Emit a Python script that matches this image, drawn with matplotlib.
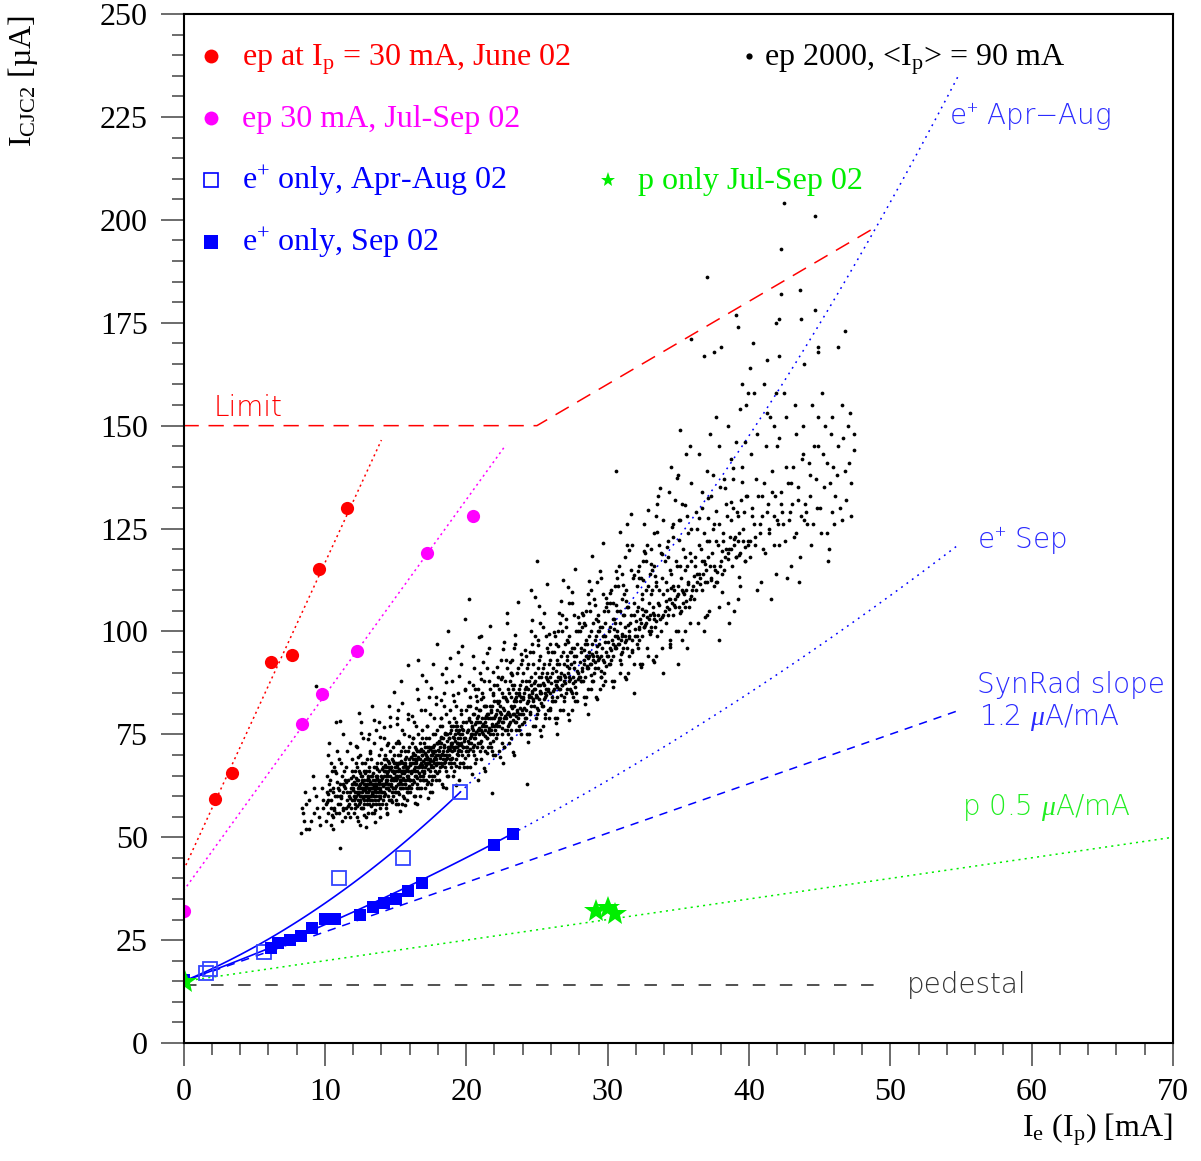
import numpy as np
import matplotlib
matplotlib.use('Agg')
import matplotlib.pyplot as plt

# ---- data ----
# ep at Ip = 30 mA, June 02
red_x = [2.2, 3.4, 6.2, 7.7, 9.6, 11.6]
red_y = [59.3, 65.6, 92.6, 94.3, 115.2, 130.0]
# ep 30 mA, Jul-Sep 02
mag_x = [0.0, 8.4, 9.8, 12.3, 17.2, 20.5]
mag_y = [32.0, 77.5, 84.8, 95.2, 119.0, 128.0]
# e+ only, Apr-Aug 02
eopen_x = [1.6, 1.85, 5.7, 11.0, 15.5, 19.55]
eopen_y = [17.1, 18.1, 22.2, 40.0, 45.0, 60.9]
# e+ only, Sep 02
efill_x = [0.0, 6.2, 6.7, 7.5, 8.3, 9.1, 10.0, 10.7, 12.5, 13.4, 14.2, 15.0, 15.9, 16.9, 22.0, 23.3]
efill_y = [15.2, 23.0, 24.2, 25.0, 26.1, 28.0, 30.1, 30.1, 31.1, 33.1, 34.1, 35.0, 37.0, 39.0, 48.1, 50.9]
# p only Jul-Sep 02
ponly_x = [0.1, 29.2, 30.0, 30.5]
ponly_y = [14.9, 32.1, 32.7, 31.3]

# ep 2000, <Ip> = 90 mA  (approximate positions of the cloud, several passes)
ep2000_a = [
    (8.3,51),(8.5,54),(8.7,58),(8.9,52),(9.2,56),(9.4,60),(9.6,55),(9.8,62),(9.9,57),(8.6,61),
    (9.4,86.8),(11.1,78.2),(11.1,47.4),(24.3,63),(21.8,60.8),(15.9,91.8),(19.9,103),
    (10.1,54),(10.2,59),(10.3,63),(10.4,57),(10.5,66),(10.6,52),(10.7,60),(10.8,56),(10.9,62),(11.0,69),
    (11.1,58),(11.2,54),(11.3,61),(11.4,64),(11.5,57),(11.6,71),(11.7,60),(11.8,55),(11.9,63),(10.3,73),
    (10.8,78),(11.5,67),(11.2,65),(10.6,61),(11.9,59),(11.0,56),(10.4,68),(11.7,58),(12.0,62),(11.3,75),
    (12.1,57),(12.2,60),(12.2,63),(12.3,55),(12.4,61),(12.4,66),(12.5,59),(12.6,62),(12.6,68),(12.7,57),
    (12.8,60),(12.8,64),(12.9,61),(13.0,58),(13.0,63),(13.1,66),(13.1,60),(13.2,62),(13.3,56),(13.3,59),
    (13.4,64),(13.4,61),(13.5,67),(13.5,60),(13.6,63),(13.6,58),(13.7,62),(13.7,65),(13.8,60),(13.8,70),
    (13.9,62),(13.9,57),(14.0,64),(12.3,72),(12.7,74),(13.2,71),(13.6,76),(12.5,53),(13.9,55),(12.9,66),
    (13.3,63),(12.0,65),(12.8,58),(13.5,62),(12.4,58),(13.1,64),(13.8,66),(12.6,65),(13.4,58),(12.2,68),
    (13.0,69),(13.7,68),(12.9,55),(13.2,59),(12.5,63),(13.6,61),(12.1,61),(13.9,60),(12.7,62),(13.3,82),
    (14.1,59),(14.1,63),(14.2,66),(14.2,61),(14.3,69),(14.3,57),(14.4,64),(14.4,62),(14.5,67),(14.5,60),
    (14.6,65),(14.6,71),(14.7,63),(14.7,59),(14.8,66),(14.8,62),(14.9,68),(14.9,64),(15.0,61),(15.0,73),
    (15.1,65),(15.1,67),(15.2,63),(15.2,58),(15.3,70),(15.3,66),(15.4,62),(15.4,64),(15.5,68),(15.5,60),
    (15.6,66),(15.6,75),(15.7,63),(15.7,69),(15.8,65),(15.8,61),(15.9,67),(15.9,71),(16.0,64),(14.2,74),
    (14.6,77),(15.1,79),(15.5,72),(14.4,56),(15.0,58),(15.8,59),(14.9,70),(15.3,62),(14.7,67),(15.6,64),
    (14.3,65),(15.2,68),(15.9,62),(14.5,63),(15.4,71),(14.8,60),(15.7,66),(14.1,67),(15.0,65),(15.4,88),
    (16.1,62),(16.1,66),(16.2,70),(16.2,64),(16.3,68),(16.3,60),(16.4,72),(16.4,66),(16.5,63),(16.5,69),
    (16.6,67),(16.6,75),(16.7,65),(16.7,71),(16.8,62),(16.8,68),(16.9,70),(16.9,66),(17.0,73),(17.0,64),
    (17.1,69),(17.1,67),(17.2,77),(17.2,63),(17.3,71),(17.3,68),(17.4,65),(17.4,74),(17.5,70),(17.5,67),
    (17.6,72),(17.6,64),(17.7,69),(17.7,79),(17.8,66),(17.8,71),(17.9,68),(17.9,73),(18.0,70),(16.3,78),
    (16.8,81),(17.4,84),(16.5,58),(17.6,61),(16.9,74),(17.2,69),(16.4,69),(17.8,75),(16.7,60),(17.0,66),
    (16.2,74),(17.5,63),(16.0,68),(16.6,93),(17.9,97),
    (18.1,66),(18.1,71),(18.2,74),(18.2,68),(18.3,63),(18.3,77),(18.4,70),(18.4,72),(18.5,67),(18.5,75),
    (18.6,69),(18.6,80),(18.7,72),(18.7,65),(18.8,74),(18.8,70),(18.9,77),(18.9,68),(19.0,73),(19.0,71),
    (19.1,83),(19.1,66),(19.2,75),(19.2,72),(19.3,69),(19.3,78),(19.4,74),(19.4,71),(19.5,76),(19.5,67),
    (19.6,73),(19.6,81),(19.7,70),(19.7,75),(19.8,78),(19.8,72),(19.9,74),(19.9,86),(20.0,71),(18.4,85),
    (19.0,88),(18.6,62),(19.5,64),(18.9,73),(19.3,76),(18.2,79),(19.8,68),(18.7,100),(19.6,92),(18.0,73),
    (20.1,70),(20.1,76),(20.2,79),(20.2,73),(20.3,67),(20.3,82),(20.4,75),(20.4,77),(20.5,71),(20.5,80),
    (20.6,74),(20.6,86),(20.7,78),(20.7,69),(20.8,76),(20.8,73),(20.9,81),(20.9,75),(21.0,78),(21.0,90),
    (21.1,72),(21.1,77),(21.2,84),(21.2,75),(21.3,79),(21.3,71),(21.4,77),(21.4,82),(21.5,74),(21.5,80),
    (21.6,76),(21.6,88),(21.7,79),(21.7,73),(21.8,82),(21.8,77),(21.9,75),(21.9,85),(22.0,79),(20.5,94),
    (21.3,66),(20.8,64),(21.6,96),(20.2,108),(21.9,70),
    (22.1,74),(22.1,80),(22.2,83),(22.2,77),(22.3,71),(22.3,86),(22.4,79),(22.4,82),(22.5,75),(22.5,89),
    (22.6,78),(22.6,84),(22.7,81),(22.7,72),(22.8,79),(22.8,93),(22.9,83),(22.9,76),(23.0,85),(23.0,80),
    (23.1,78),(23.1,88),(23.2,82),(23.2,74),(23.3,86),(23.3,80),(23.4,83),(23.4,96),(23.5,78),(23.5,84),
    (23.6,81),(23.6,90),(23.7,85),(23.7,77),(23.8,83),(23.8,87),(23.9,80),(23.9,92),(24.0,84),(22.6,68),
    (23.4,70),(22.9,102),
    (24.1,78),(24.1,85),(24.2,88),(24.2,81),(24.3,75),(24.3,91),(24.4,83),(24.4,86),(24.5,80),(24.5,95),
    (24.6,84),(24.6,89),(24.7,77),(24.7,92),(24.8,86),(24.8,82),(24.9,99),(24.9,88),(25.0,84),(25.0,80),
    (25.1,91),(25.1,87),(25.2,76),(25.2,94),(25.3,85),(25.3,89),(25.4,82),(25.4,101),(25.5,87),(25.5,92),
    (25.6,84),(25.6,79),(25.7,90),(25.7,96),(25.8,86),(25.8,88),(25.9,93),(25.9,81),(24.6,110),(25.0,117),
    (26.1,83),(26.1,90),(26.2,86),(26.2,95),(26.3,79),(26.3,88),(26.4,92),(26.4,84),(26.5,100),(26.5,89),
    (26.6,86),(26.6,81),(26.7,94),(26.7,90),(26.8,87),(26.8,104),(26.9,92),(26.9,84),(27.0,97),(27.0,89),
    (27.1,86),(27.1,93),(27.2,80),(27.2,90),(27.3,99),(27.3,88),(27.4,95),(27.4,92),(27.5,85),(27.5,107),
    (27.6,91),(27.6,96),(27.7,88),(27.7,83),(27.8,94),(27.9,100),(27.9,90),(26.4,75),
    (28.1,88),(28.1,95),(28.2,91),(28.2,101),(28.3,84),(28.3,93),(28.4,97),(28.4,89),(28.5,105),(28.5,94),
    (28.6,91),(28.6,86),(28.7,99),(28.7,95),(28.8,92),(28.8,110),(28.9,97),(28.9,88),(29.0,102),(29.0,94),
    (29.1,91),(29.1,98),(29.2,84),(29.2,95),(29.3,104),(29.3,93),(29.4,100),(29.4,97),(29.5,89),(29.5,113),
    (29.6,96),(29.6,101),(29.7,93),(29.7,87),(29.8,99),(29.9,106),(29.9,95),(28.6,80),
    (30.1,92),(30.1,100),(30.2,96),(30.2,107),(30.3,88),(30.3,98),(30.4,103),(30.4,94),(30.5,111),(30.5,99),
    (30.6,96),(30.6,139),(30.7,105),(30.7,100),(30.8,97),(30.8,116),(30.9,102),(30.9,93),(31.0,108),(31.0,99),
    (31.1,96),(31.1,104),(31.2,89),(31.2,101),(31.3,110),(31.3,98),(31.4,106),(31.4,121),(31.5,94),(31.6,102),
    (31.7,98),(31.8,113),(31.9,104),(31.9,85),(31.5,100),
    (32.1,97),(32.1,105),(32.2,101),(32.2,113),(32.3,92),(32.3,103),(32.4,108),(32.4,99),(32.5,117),(32.5,104),
    (32.6,101),(32.6,126),(32.7,110),(32.7,105),(32.8,96),(32.8,121),(32.9,107),(32.9,100),(33.0,114),(33.0,104),
    (33.1,101),(33.1,109),(33.2,93),(33.2,106),(33.3,116),(33.3,103),(33.4,111),(33.4,128),(33.5,99),(33.6,107),
    (33.7,103),(33.8,119),(33.9,109),(33.9,90),(33.5,131),
    (34.1,102),(34.2,110),(34.2,106),(34.3,118),(34.4,97),(34.4,108),(34.5,114),(34.6,104),(34.6,123),(34.7,110),
    (34.8,106),(34.8,132),(34.9,116),(35.0,111),(35.0,100),(35.1,127),(35.2,113),(35.2,105),(35.3,120),(35.4,109),
    (35.5,106),(35.5,115),(35.6,96),(35.7,112),(35.7,124),(35.8,108),(35.9,117),(35.9,136),(35.0,92),(35.9,171),
    (35.8,145),(34.5,140),
    (36.1,108),(36.2,116),(36.3,112),(36.3,125),(36.4,102),(36.5,114),(36.6,120),(36.7,110),(36.7,130),(36.8,117),
    (36.9,112),(37.0,139),(37.0,122),(37.1,118),(37.2,105),(37.3,133),(37.4,119),(37.5,111),(37.5,126),(37.6,115),
    (37.7,112),(37.8,121),(37.9,98),(37.9,145),(36.8,167),(37.5,168),(38.0,169),(37.0,186),
    (38.1,114),(38.2,122),(38.3,118),(38.4,131),(38.5,107),(38.6,120),(38.7,127),(38.8,116),(38.9,137),(39.0,123),
    (39.1,118),(39.1,146),(39.2,128),(39.3,124),(39.4,111),(39.5,140),(39.6,125),(39.7,117),(39.8,133),(39.9,121),
    (39.8,155),(39.1,177),(39.2,174),(38.6,102),(39.5,160),
    (40.1,118),(40.2,128),(40.4,123),(40.5,137),(40.6,110),(40.8,126),(40.9,133),(41.0,120),(41.2,145),(41.3,129),
    (41.4,124),(41.5,152),(41.6,134),(41.8,128),(41.9,114),(41.9,158),(40.3,170),(40.1,164),(41.3,166),(41.9,175),
    (42.1,121),(42.3,131),(42.4,126),(42.6,140),(42.7,113),(42.9,129),(43.0,136),(43.2,123),(43.3,148),(43.5,132),
    (43.6,118),(43.8,143),(43.9,127),(42.5,204),(42.3,193),(42.3,182),(42.1,176),(43.6,183),(43.7,176),(43.9,165),
    (42.1,167),
    (44.1,126),(44.3,138),(44.4,121),(44.6,145),(44.8,130),(44.9,152),(45.1,124),(45.3,135),(45.5,141),(45.6,117),
    (45.8,148),(45.9,129),(44.7,201),(44.7,178),(44.9,169),(44.9,168),
    (46.1,133),(46.3,145),(46.6,127),(46.8,139),(47.0,150),(47.2,136),(47.4,144),(46.3,169),(46.8,173),
]
ep2000_b = [
    (8.45,56),(8.65,52),(8.85,59),(9.05,54),(9.25,62),(9.45,57),(9.65,53),(9.85,59),(8.35,57),(9.15,65),
    (10.05,58),(10.15,61),(10.25,56),(10.35,64),(10.45,59),(10.55,62),(10.65,57),(10.75,66),(10.85,60),(10.95,58),
    (11.05,63),(11.15,60),(11.25,57),(11.35,66),(11.45,62),(11.55,59),(11.65,64),(11.75,61),(11.85,57),(11.95,66),
    (10.25,70),(10.55,55),(10.85,71),(11.15,68),(11.45,55),(11.75,73),(11.95,69),(10.15,65),(10.65,67),(11.25,63),
    (11.55,61),(11.85,62),(10.45,53),(11.05,60),(11.65,56),
    (12.05,59),(12.15,63),(12.15,58),(12.25,61),(12.35,64),(12.35,59),(12.45,62),(12.55,60),(12.55,65),(12.65,61),
    (12.75,59),(12.75,63),(12.85,62),(12.95,60),(12.95,64),(13.05,61),(13.15,63),(13.15,58),(13.25,65),(13.35,61),
    (13.35,62),(13.45,60),(13.55,64),(13.55,63),(13.65,60),(13.75,64),(13.75,61),(13.85,63),(13.95,65),(13.95,61),
    (12.05,56),(12.25,67),(12.45,70),(12.65,57),(12.85,68),(13.05,56),(13.25,69),(13.45,73),(13.65,67),(13.85,58),
    (12.15,66),(12.35,62),(12.55,57),(12.75,66),(12.95,59),(13.15,67),(13.35,65),(13.55,59),(13.75,59),(13.95,68),
    (12.25,64),(12.45,60),(12.65,64),(12.85,60),(13.05,65),(13.25,62),(13.45,63),(13.65,65),(13.85,62),(12.55,78),
    (13.15,75),(13.85,78),(12.35,54),(13.45,56),(12.05,60),(12.85,63),(13.65,63),(12.45,63),(13.05,62),(13.25,60),
    (14.05,61),(14.15,65),(14.15,60),(14.25,63),(14.35,67),(14.35,62),(14.45,65),(14.55,63),(14.55,68),(14.65,64),
    (14.75,61),(14.75,66),(14.85,64),(14.95,62),(14.95,67),(15.05,64),(15.15,66),(15.15,61),(15.25,68),(15.35,64),
    (15.35,65),(15.45,63),(15.55,67),(15.55,66),(15.65,63),(15.75,67),(15.75,64),(15.85,66),(15.95,69),(15.95,64),
    (14.05,58),(14.25,70),(14.45,73),(14.65,59),(14.85,72),(15.05,59),(15.25,73),(15.45,76),(15.65,71),(15.85,61),
    (14.15,69),(14.35,64),(14.55,59),(14.75,69),(14.95,61),(15.15,70),(15.35,68),(15.55,62),(15.75,62),(15.95,72),
    (14.25,66),(14.45,62),(14.65,67),(14.85,62),(15.05,68),(15.25,65),(15.45,66),(15.65,68),(15.85,65),(14.55,82),
    (15.15,81),(15.85,80),(14.35,58),(15.45,58),(14.05,63),(14.85,66),(15.65,66),(14.45,66),(15.05,66),(15.25,63),
    (16.05,64),(16.15,68),(16.15,63),(16.25,66),(16.35,70),(16.35,65),(16.45,68),(16.55,66),(16.55,71),(16.65,67),
    (16.75,64),(16.75,69),(16.85,67),(16.95,65),(16.95,71),(17.05,68),(17.15,70),(17.15,64),(17.25,72),(17.35,68),
    (17.35,69),(17.45,66),(17.55,71),(17.55,70),(17.65,67),(17.75,71),(17.75,68),(17.85,70),(17.95,73),(17.95,68),
    (16.05,61),(16.25,74),(16.45,77),(16.65,62),(16.85,76),(17.05,62),(17.25,77),(17.45,80),(17.65,75),(17.85,64),
    (16.15,73),(16.35,67),(16.55,62),(16.75,73),(16.95,64),(17.15,74),(17.35,72),(17.55,65),(17.75,65),(17.95,76),
    (16.25,69),(16.45,65),(16.65,71),(16.85,65),(17.05,72),(17.25,68),(17.45,69),(17.65,72),(17.85,69),(16.55,86),
    (17.15,88),(17.85,84),(16.35,60),(17.45,61),(16.85,70),
    (18.05,68),(18.15,72),(18.15,67),(18.25,70),(18.35,74),(18.35,69),(18.45,72),(18.55,70),(18.55,75),(18.65,71),
    (18.75,68),(18.75,74),(18.85,72),(18.95,69),(18.95,76),(19.05,72),(19.15,74),(19.15,68),(19.25,77),(19.35,72),
    (19.35,73),(19.45,70),(19.55,75),(19.55,74),(19.65,71),(19.75,76),(19.75,72),(19.85,74),(19.95,78),(19.95,72),
    (18.05,64),(18.25,79),(18.45,82),(18.65,65),(18.85,81),(19.05,65),(19.25,82),(19.45,85),(19.65,80),(19.85,67),
    (18.15,77),(18.35,71),(18.55,66),(18.75,78),(18.95,67),(19.15,79),(19.35,77),(19.55,68),(19.75,68),(19.95,81),
    (18.25,73),(18.45,68),(18.65,75),(18.85,69),(19.05,77),(19.25,72),(19.45,73),(19.65,77),(18.55,91),(19.45,95),
    (20.05,72),(20.15,76),(20.15,71),(20.25,74),(20.35,78),(20.35,73),(20.45,76),(20.55,74),(20.55,80),(20.65,75),
    (20.75,72),(20.75,79),(20.85,76),(20.95,73),(20.95,81),(21.05,76),(21.15,79),(21.15,72),(21.25,82),(21.35,76),
    (21.35,78),(21.45,74),(21.55,80),(21.55,79),(21.65,75),(21.75,81),(21.75,76),(21.85,79),(21.95,83),(21.95,77),
    (20.05,67),(20.25,84),(20.45,87),(20.65,68),(20.85,86),(21.05,69),(21.25,88),(21.45,91),(21.65,86),(21.85,71),
    (20.15,82),(20.35,75),(20.55,70),(20.75,83),(20.95,71),(21.15,85),(21.35,82),(21.55,72),(21.75,72),(21.95,87),
    (20.45,72),(20.85,78),(21.25,77),(21.65,82),(21.05,99),
    (22.05,76),(22.15,81),(22.15,75),(22.25,78),(22.35,83),(22.35,77),(22.45,80),(22.55,78),(22.55,85),(22.65,79),
    (22.75,76),(22.75,84),(22.85,80),(22.95,77),(22.95,86),(23.05,80),(23.15,84),(23.15,76),(23.25,87),(23.35,80),
    (23.35,82),(23.45,78),(23.55,85),(23.55,83),(23.65,79),(23.75,86),(23.75,80),(23.85,84),(23.95,88),(23.95,81),
    (22.05,70),(22.25,89),(22.45,93),(22.65,72),(22.85,91),(23.05,73),(23.25,93),(23.45,97),(23.65,91),(23.85,75),
    (22.15,87),(22.35,79),(22.55,73),(22.75,88),(22.95,75),(23.15,90),(23.35,87),(23.55,76),(23.75,76),(23.95,93),
    (24.05,80),(24.15,86),(24.25,79),(24.35,83),(24.45,88),(24.55,82),(24.65,85),(24.75,83),(24.85,90),(24.95,84),
    (25.05,81),(25.15,89),(25.25,85),(25.35,82),(25.45,91),(25.55,85),(25.65,89),(25.75,81),(25.85,92),(25.95,85),
    (24.05,90),(24.25,94),(24.45,75),(24.65,97),(24.85,77),(25.05,98),(25.25,102),(25.45,77),(25.65,99),(25.85,79),
    (24.15,79),(24.35,92),(24.55,87),(24.75,95),(24.95,79),(25.15,93),(25.35,90),(25.55,80),(25.75,95),(25.95,97),
    (24.45,84),(24.85,86),(25.25,87),(25.65,86),(25.95,89),
    (26.05,84),(26.15,91),(26.25,83),(26.35,87),(26.45,93),(26.55,86),(26.65,89),(26.75,87),(26.85,95),(26.95,88),
    (27.05,85),(27.15,94),(27.25,89),(27.35,86),(27.45,96),(27.55,89),(27.65,94),(27.75,85),(27.85,97),(27.95,89),
    (26.05,95),(26.25,99),(26.45,79),(26.65,102),(26.85,81),(27.05,103),(27.25,107),(27.45,81),(27.65,104),(27.85,83),
    (26.15,83),(26.35,97),(26.55,92),(26.75,100),(26.95,83),(27.15,98),(27.35,95),(27.55,84),(27.75,100),(27.95,102),
    (26.45,88),(27.25,91),
    (28.05,89),(28.15,96),(28.25,88),(28.35,92),(28.45,98),(28.55,91),(28.65,94),(28.75,92),(28.85,100),(28.95,93),
    (29.05,90),(29.15,99),(29.25,94),(29.35,91),(29.45,101),(29.55,94),(29.65,99),(29.75,90),(29.85,102),(29.95,94),
    (28.05,100),(28.25,104),(28.45,84),(28.65,107),(28.85,86),(29.05,108),(29.25,112),(29.45,86),(29.65,109),(29.85,88),
    (28.15,88),(28.35,102),(28.55,97),(28.75,105),(28.95,88),(29.15,103),(29.35,100),(29.55,89),(29.75,105),(29.95,107),
    (30.05,94),(30.15,101),(30.25,93),(30.35,97),(30.45,103),(30.55,96),(30.65,99),(30.75,97),(30.85,105),(30.95,98),
    (31.05,95),(31.15,104),(31.25,99),(31.35,96),(31.45,106),(31.55,99),(31.65,104),(31.75,95),(31.85,107),(31.95,99),
    (30.05,105),(30.25,110),(30.45,88),(30.65,113),(30.85,90),(31.05,114),(31.25,118),(31.45,90),(31.65,115),(31.85,92),
    (30.15,92),(30.35,107),(30.55,102),(30.75,111),(30.95,92),(31.15,109),(31.35,126),(31.75,121),
    (32.05,99),(32.15,106),(32.25,98),(32.35,102),(32.45,109),(32.55,101),(32.65,105),(32.75,102),(32.85,111),(32.95,103),
    (33.05,100),(33.15,110),(33.25,104),(33.35,101),(33.45,112),(33.55,104),(33.65,110),(33.75,100),(33.85,113),(33.95,104),
    (32.05,111),(32.25,116),(32.45,92),(32.65,119),(32.85,94),(33.05,120),(33.25,124),(33.45,94),(33.65,121),(33.85,96),
    (32.15,96),(32.35,113),(32.75,117),(33.15,115),(33.55,133),(33.95,127),
    (34.05,105),(34.15,112),(34.25,104),(34.35,108),(34.45,115),(34.55,107),(34.65,111),(34.75,108),(34.85,117),(34.95,109),
    (35.05,106),(35.15,116),(35.25,110),(35.35,107),(35.45,118),(35.55,110),(35.65,116),(35.75,106),(35.85,119),(35.95,110),
    (34.05,117),(34.25,122),(34.45,98),(34.65,126),(34.85,100),(35.05,127),(35.25,131),(35.45,100),(35.65,128),(35.85,102),
    (34.35,134),(34.95,138),(35.55,143),(35.15,149),
    (36.05,111),(36.15,118),(36.25,110),(36.35,114),(36.45,121),(36.55,113),(36.65,117),(36.75,114),(36.85,124),(36.95,115),
    (37.05,112),(37.15,122),(37.25,116),(37.35,113),(37.45,125),(37.55,116),(37.65,122),(37.75,112),(37.85,126),(37.95,116),
    (36.25,129),(36.65,134),(37.05,104),(37.45,138),(37.85,106),(36.45,143),(37.25,148),(37.65,152),(36.85,100),(37.95,135),
    (38.05,117),(38.15,124),(38.25,115),(38.35,120),(38.45,128),(38.55,119),(38.65,123),(38.75,120),(38.85,130),(38.95,121),
    (39.05,118),(39.15,129),(39.25,122),(39.35,119),(39.45,132),(39.55,122),(39.65,129),(39.75,117),(39.85,133),(39.95,122),
    (38.25,137),(38.75,142),(39.25,108),(39.75,146),(38.55,150),(39.35,154),(39.95,158),(38.95,105),
    (40.05,122),(40.25,130),(40.35,126),(40.45,121),(40.65,133),(40.75,124),(40.95,128),(41.05,136),(41.15,119),(41.35,131),
    (41.45,125),(41.65,139),(41.75,121),(41.85,133),(41.95,127),(40.15,143),(40.55,148),(40.85,112),(41.25,153),(41.55,108),
    (41.95,145),(40.35,158),(41.05,160),(41.75,150),
    (42.05,126),(42.25,134),(42.35,129),(42.55,122),(42.75,136),(42.85,127),(43.05,131),(43.15,140),(43.35,124),(43.45,135),
    (43.65,128),(43.75,142),(43.95,131),(42.15,147),(42.65,152),(42.95,116),(43.25,155),(43.55,112),(43.85,150),(42.45,158),
    (44.05,129),(44.25,141),(44.35,133),(44.55,126),(44.75,137),(44.85,145),(45.05,130),(45.25,143),(45.35,150),(45.55,124),
    (45.75,136),(45.95,140),(44.45,155),(45.15,158),(45.65,120),(45.85,152),
    (46.05,126),(46.25,138),(46.45,130),(46.65,147),(46.85,132),(47.05,141),(47.25,128),(47.45,148),(46.55,155),(47.15,153),
]
ep2000_c = [
    (10.12,58.5),(10.37,61.5),(10.62,56.5),(10.87,63.5),(11.12,59.5),(11.37,62.5),(11.62,57.5),(11.87,64.5),
    (10.22,60.5),(10.47,55.5),(10.77,65.5),(11.02,61.5),(11.27,56.5),(11.52,63.5),(11.77,59.5),
    (12.02,61.5),(12.12,59.5),(12.22,64.5),(12.32,60.5),(12.42,62.5),(12.52,58.5),(12.62,63.5),(12.72,61.5),
    (12.82,65.5),(12.92,62.5),(13.02,59.5),(13.12,61.5),(13.22,63.5),(13.32,60.5),(13.42,65.5),(13.52,61.5),
    (13.62,62.5),(13.72,66.5),(13.82,63.5),(13.92,59.5),(12.07,63.5),(12.27,57.5),(12.47,65.5),(12.67,59.5),
    (12.87,61.5),(13.07,64.5),(13.27,57.5),(13.47,62.5),(13.67,64.5),(13.87,61.5),(12.37,69.5),(12.77,55.5),
    (13.17,70.5),(13.57,56.5),(13.97,71.5),
    (14.02,64.5),(14.12,62.5),(14.22,67.5),(14.32,63.5),(14.42,65.5),(14.52,61.5),(14.62,66.5),(14.72,64.5),
    (14.82,68.5),(14.92,65.5),(15.02,62.5),(15.12,64.5),(15.22,66.5),(15.32,63.5),(15.42,68.5),(15.52,64.5),
    (15.62,65.5),(15.72,69.5),(15.82,66.5),(15.92,62.5),(14.07,66.5),(14.27,60.5),(14.47,68.5),(14.67,62.5),
    (14.87,64.5),(15.07,67.5),(15.27,60.5),(15.47,65.5),(15.67,67.5),(15.87,64.5),(14.37,72.5),(14.77,58.5),
    (15.17,73.5),(15.57,59.5),(15.97,74.5),
    (16.02,67.5),(16.12,65.5),(16.22,70.5),(16.32,66.5),(16.42,68.5),(16.52,64.5),(16.62,69.5),(16.72,67.5),
    (16.82,71.5),(16.92,68.5),(17.02,65.5),(17.12,67.5),(17.22,69.5),(17.32,66.5),(17.42,71.5),(17.52,67.5),
    (17.62,68.5),(17.72,72.5),(17.82,69.5),(17.92,65.5),(16.07,69.5),(16.27,63.5),(16.47,71.5),(16.67,65.5),
    (16.87,67.5),(17.07,70.5),(17.27,63.5),(17.47,68.5),(17.67,70.5),(17.87,67.5),
    (18.02,71.3),(18.12,69.3),(18.22,74.3),(18.32,70.3),(18.42,72.3),(18.52,68.3),(18.62,73.3),(18.72,71.3),
    (18.82,75.3),(18.92,72.3),(19.02,69.3),(19.12,71.3),(19.22,73.3),(19.32,70.3),(19.42,75.3),(19.52,71.3),
    (19.62,72.3),(19.72,76.3),(19.82,73.3),(19.92,69.3),(18.07,73.3),(18.27,67.3),(18.47,75.3),(18.67,69.3),
    (18.87,71.3),(19.07,74.3),(19.27,67.3),(19.47,72.3),
    (20.02,75.5),(20.12,73.5),(20.22,78.5),(20.32,74.5),(20.42,76.5),(20.52,72.5),(20.62,77.5),(20.72,75.5),
    (20.82,79.5),(20.92,76.5),(21.02,73.5),(21.12,75.5),(21.22,77.5),(21.32,74.5),(21.42,79.5),(21.52,75.5),
    (21.62,76.5),(21.72,80.5),(21.82,77.5),(21.92,73.5),(20.27,71.5),(20.67,81.5),(21.07,83.5),(21.47,70.5),
    (21.87,84.5),
    (22.02,79.5),(22.12,77.5),(22.22,82.5),(22.32,78.5),(22.42,80.5),(22.52,76.5),(22.62,81.5),(22.72,79.5),
    (22.82,83.5),(22.92,80.5),(23.02,77.5),(23.12,79.5),(23.22,81.5),(23.32,78.5),(23.42,83.5),(23.52,79.5),
    (23.62,80.5),(23.72,84.5),(23.82,81.5),(23.92,77.5),(22.47,88.5),(23.27,89.5),
    (24.02,83.5),(24.12,81.5),(24.22,86.5),(24.32,82.5),(24.42,84.5),(24.52,80.5),(24.62,85.5),(24.72,83.5),
    (24.82,87.5),(24.92,84.5),(25.02,81.5),(25.12,83.5),(25.22,85.5),(25.32,82.5),(25.42,87.5),(25.52,83.5),
    (25.62,84.5),(25.72,88.5),(25.82,85.5),(25.92,81.5),
    (26.02,87.5),(26.12,85.5),(26.32,90.5),(26.42,86.5),(26.62,88.5),(26.72,84.5),(26.92,89.5),(27.02,87.5),
    (27.12,91.5),(27.32,88.5),(27.42,85.5),(27.52,87.5),(27.62,92.5),(27.72,86.5),(27.82,90.5),(27.92,88.5),
    (26.52,96.5),(27.22,97.5),
    (28.02,92.5),(28.22,90.5),(28.32,95.5),(28.52,91.5),(28.62,93.5),(28.82,89.5),(28.92,94.5),(29.12,92.5),
    (29.22,96.5),(29.42,93.5),(29.52,90.5),(29.72,92.5),(29.82,97.5),(29.92,91.5),(28.42,101.5),(29.32,102.5),
    (30.02,97.5),(30.22,95.5),(30.42,100.5),(30.52,96.5),(30.72,98.5),(30.92,94.5),(31.02,99.5),(31.22,97.5),
    (31.42,101.5),(31.52,98.5),(31.72,95.5),(31.92,100.5),(30.62,106.5),(31.32,107.5),
    (32.02,102.5),(32.22,100.5),(32.42,105.5),(32.62,101.5),(32.82,103.5),(33.02,99.5),(33.22,104.5),(33.42,102.5),
    (33.62,106.5),(33.82,103.5),(32.52,112.5),(33.32,113.5),
    (34.12,107.5),(34.32,105.5),(34.52,110.5),(34.72,106.5),(34.92,108.5),(35.12,104.5),(35.32,109.5),(35.52,107.5),
    (35.72,111.5),(35.92,108.5),
    (36.12,113.5),(36.52,111.5),(36.92,116.5),(37.32,112.5),(37.72,114.5),(38.12,119.5),(38.52,117.5),(38.92,122.5),
    (39.32,118.5),(39.72,120.5),(37.12,127.5),(38.72,131.5),
]
# fringe of the cloud above and below the dense band
ep2000_d = [
    (12.18,72.2),(12.58,75.4),(13.08,73.8),(13.48,78.6),(13.88,74.4),(12.88,52.6),(13.58,53.8),(12.38,80.2),
    (14.18,76.8),(14.58,79.2),(15.08,77.4),(15.48,82.6),(15.88,78.8),(14.38,55.6),(15.28,56.4),(14.88,85.2),(15.68,57.8),
    (16.18,79.4),(16.58,83.6),(17.08,80.8),(17.48,86.2),(17.88,82.4),(16.38,58.4),(17.28,59.6),(16.88,89.4),(17.68,92.2),
    (18.18,83.4),(18.58,87.8),(19.08,84.6),(19.48,89.2),(19.88,85.8),(18.38,62.2),(19.28,62.8),(18.88,93.6),(19.68,96.4),
    (18.28,89.6),
    (20.18,87.6),(20.58,91.2),(21.08,88.4),(21.48,94.8),(21.88,90.2),(20.38,65.4),(21.28,66.8),(20.88,98.6),(21.68,101.4),
    (20.68,84.2),(21.18,92.6),
    (22.18,91.4),(22.58,95.8),(23.08,92.6),(23.48,99.2),(23.88,94.4),(22.38,69.6),(23.28,70.8),(22.88,104.6),(23.68,107.2),
    (22.68,97.4),(23.18,89.8),
    (24.18,95.6),(24.58,100.2),(25.08,96.8),(25.48,104.6),(25.88,99.4),(24.38,73.2),(25.28,74.6),(24.88,108.4),(25.68,111.6),
    (24.68,102.8),(25.18,106.2),
    (26.18,99.8),(26.58,104.4),(27.08,101.2),(27.48,109.6),(27.88,103.4),(26.38,77.8),(27.28,78.4),(26.88,112.6),(27.68,115.2),
    (26.68,107.4),(27.18,110.8),
    (28.18,104.6),(28.58,109.2),(29.08,106.4),(29.48,114.8),(29.88,108.2),(28.38,82.4),(29.28,83.6),(28.88,118.4),(29.68,121.6),
    (28.68,112.2),
    (30.18,109.4),(30.58,114.6),(31.08,111.2),(31.48,119.8),(31.88,113.6),(30.38,86.6),(31.28,88.4),(30.88,124.2),(31.68,128.6),
    (32.18,114.8),(32.58,119.6),(33.08,116.4),(33.48,124.2),(33.88,118.8),(32.38,91.4),(33.28,92.6),(32.88,129.4),(33.68,134.8),
    (34.18,120.6),(34.58,125.4),(35.08,122.2),(35.48,130.6),(35.88,124.8),(34.38,96.2),(35.28,97.8),(34.88,137.4),
    (36.48,127.6),(37.08,132.4),(37.68,129.2),(38.28,134.8),(38.88,139.6),(39.48,136.2),(36.88,103.4),(38.08,109.6),
    (39.28,113.2),
]

# fitted lines (end points / coefficients)
red_fit_x, red_fit_y = [0.0, 14.0], [42.0, 146.5]
mag_fit_x, mag_fit_y = [0.0, 22.8], [37.0, 145.3]
limit_x, limit_y = [0.0, 25.0, 49.2], [150.0, 150.0, 198.7]
pedestal_x, pedestal_y = [0.0, 49.6], [14.1, 14.1]
synrad_x, synrad_y = [0.0, 55.0], [15.0, 81.0]
pline_x, pline_y = [0.0, 70.0], [15.0, 50.0]
apraug_coef = [0.04728, 1.422, 15.0]   # quadratic fit to open squares
sep_coef = [0.01243, 1.253, 15.0]      # quadratic fit to filled squares
apraug_range = (0.0, 19.55, 54.8)      # solid up to last point, dotted beyond
sep_range = (0.0, 23.3, 54.8)

plt.rcParams['font.family'] = ['Liberation Serif', 'DejaVu Serif']
plt.rcParams['mathtext.fontset'] = 'custom'
plt.rcParams['mathtext.rm'] = 'Liberation Serif'
plt.rcParams['mathtext.it'] = 'Liberation Serif:italic'
plt.rcParams['mathtext.bf'] = 'Liberation Serif:bold'
plt.rcParams['lines.scale_dashes'] = False

BLUE = '#0000ff'
LBLUE = '#2b2bff'
GREEN = '#00ee00'
SANS = ['DejaVu Sans']

fig = plt.figure(figsize=(12.01, 11.61), dpi=100)
ax = fig.add_axes([0.1528, 0.1016, 0.8239, 0.8863])

# lines
ax.plot(red_fit_x, red_fit_y, color='red', lw=1.1, dashes=(1.5, 2.5))
ax.plot(mag_fit_x, mag_fit_y, color='#ff00ff', lw=1.1, dashes=(1.5, 2.5))
ax.plot(limit_x, limit_y, color='red', lw=1.1, dashes=(11, 7))
ax.plot(pedestal_x, pedestal_y, color='#333333', lw=1.2, dashes=(9, 10.5))
ax.plot(synrad_x, synrad_y, color=BLUE, lw=1.1, dashes=(6, 5))
ax.plot(pline_x, pline_y, color=GREEN, lw=1.1, dashes=(1.5, 3))

xs = np.linspace(apraug_range[0], apraug_range[1], 100)
ax.plot(xs, np.polyval(apraug_coef, xs), color=BLUE, lw=1.2)
xs = np.linspace(apraug_range[1], apraug_range[2], 100)
ax.plot(xs, np.polyval(apraug_coef, xs), color=BLUE, lw=1.1, dashes=(1.3, 3.5))
xs = np.linspace(sep_range[0], sep_range[1], 100)
ax.plot(xs, np.polyval(sep_coef, xs), color=BLUE, lw=1.2)
xs = np.linspace(sep_range[1], sep_range[2], 100)
ax.plot(xs, np.polyval(sep_coef, xs), color=BLUE, lw=1.1, dashes=(1.3, 3.5))

# ep 2000 cloud
ep = np.array(ep2000_a + ep2000_b + ep2000_c + ep2000_d)
ax.plot(ep[:, 0], ep[:, 1], 'o', color='black', ms=2.7, mew=0)

# data points
ax.plot(red_x, red_y, 'o', color='red', ms=9.5, mew=0)
ax.plot(mag_x, mag_y, 'o', color='#ff00ff', ms=9.5, mew=0)
ax.plot(eopen_x, eopen_y, 's', mfc='none', mec='#3344ff', ms=9.5, mew=1.3)
ax.plot(efill_x, efill_y, 's', color=BLUE, ms=9, mew=0)
ax.plot(ponly_x, ponly_y, '*', color=GREEN, ms=18, mew=0)

# legend (drawn inside the frame)
LFS = 23
leg_mx, leg_tx = 1.95, 4.15
ax.plot(leg_mx, 239.8, 'o', color='red', ms=10, mew=0)
ax.text(leg_tx, 237.6, r'ep at I$_{\mathrm{p}}$ = 30 mA, June 02', color='red', fontsize=LFS, va='baseline')
ax.plot(leg_mx, 224.7, 'o', color='#ff00ff', ms=10, mew=0)
ax.text(leg_tx, 222.5, 'ep 30 mA, Jul-Sep 02', color='#ff00ff', fontsize=LFS, va='baseline')
ax.plot(leg_mx, 209.6, 's', mfc='none', mec=BLUE, ms=10, mew=1.2)
ax.text(leg_tx, 207.5, r'e$^{+}$ only, Apr-Aug 02', color=BLUE, fontsize=LFS, va='baseline')
ax.plot(leg_mx, 194.6, 's', color=BLUE, ms=10, mew=0)
ax.text(leg_tx, 192.4, r'e$^{+}$ only, Sep 02', color=BLUE, fontsize=LFS, va='baseline')
ax.plot(40.0, 239.8, 'o', color='black', ms=4.5, mew=0)
ax.text(41.1, 237.6, r'ep 2000, <I$_{\mathrm{p}}$> = 90 mA', color='black', fontsize=LFS, va='baseline')
ax.plot(30.0, 209.7, '*', color=GREEN, ms=11, mew=0)
ax.text(32.15, 207.5, 'p only Jul-Sep 02', color=GREEN, fontsize=LFS, va='baseline')

# annotations
AFS = 20
ax.text(54.15, 225.0, r'e$^{+}$ Apr−Aug', color=LBLUE, fontsize=AFS, family=SANS, weight='light', va='center')
ax.text(56.1, 122.2, r'e$^{+}$ Sep', color=LBLUE, fontsize=AFS, family=SANS, weight='light', va='center')
ax.text(56.1, 87.0, 'SynRad slope', color=LBLUE, fontsize=AFS, family=SANS, weight='light', va='center')
ax.text(56.3, 79.2, r'1.2 $\mu$A/mA', color=LBLUE, fontsize=AFS, family=SANS, weight='light', va='center')
ax.text(55.1, 57.3, r'p 0.5 $\mu$A/mA', color='#22ee22', fontsize=AFS, family=SANS, weight='light', va='center')
ax.text(51.2, 14.1, 'pedestal', color='#333333', fontsize=AFS, family=SANS, weight='light', va='center')
ax.text(2.1, 154.3, 'Limit', color='red', fontsize=AFS, family=SANS, weight='light', va='center')

# axes styling
ax.set_xlim(0, 70)
ax.set_ylim(0, 250)
ax.set_xticks(np.arange(0, 71, 10))
ax.set_xticks(np.arange(0, 71, 2), minor=True)
ax.set_yticks(np.arange(0, 251, 25))
ax.set_yticks(np.arange(0, 251, 5), minor=True)
ax.tick_params(which='major', direction='out', length=16.5, width=1.1, color='#444444',
               labelsize=23, pad=9)
ax.tick_params(which='minor', direction='out', length=8.5, width=1.1, color='#444444')
for s in ax.spines.values():
    s.set_linewidth(1.5)

fig.text(23 / 1201, 1 - 15 / 1161, r'I$_{\mathrm{CJC2}}$ [µA]', rotation=90,
         ha='center', va='top', fontsize=23)
fig.text(1173 / 1201, 1 - 1130 / 1161, r'I$_{\mathrm{e}}$ (I$_{\mathrm{p}}$) [mA]',
         ha='right', va='center', fontsize=23)

fig.savefig('out.png', dpi=100)
